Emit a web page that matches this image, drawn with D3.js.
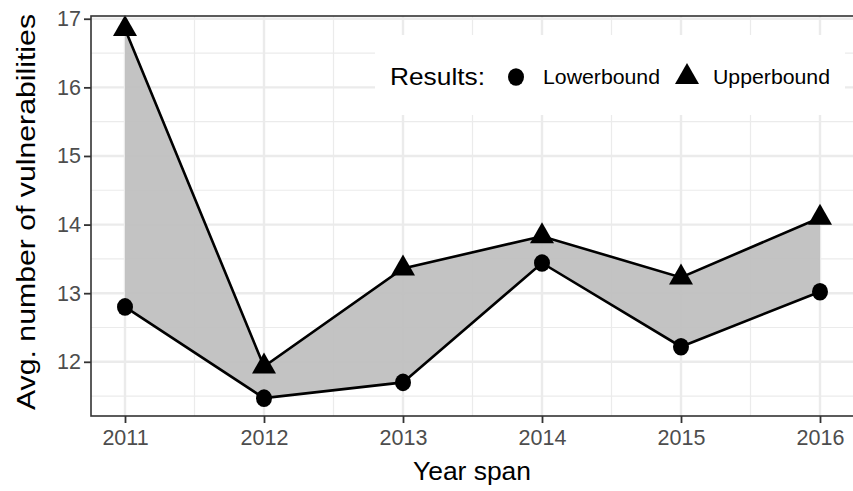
<!DOCTYPE html>
<html>
<head>
<meta charset="utf-8">
<script src="https://cdn.jsdelivr.net/npm/d3@7"></script>
<style>
  body { margin: 0; background: #fff; }
  svg { display: block; font-family: "Liberation Sans", Arial, sans-serif; }
</style>
</head>
<body>
<div id="chart"></div>
<script>
// data
const years = [2011, 2012, 2013, 2014, 2015, 2016];
const lowerbound = [12.8, 11.47, 11.7, 13.44, 12.22, 13.02];
const upperbound = [16.85, 11.93, 13.36, 13.83, 13.23, 14.1];
const yTicks = [12, 13, 14, 15, 16, 17];
const yMinor = [11.5, 12.5, 13.5, 14.5, 15.5, 16.5];
const xMinor = [2011.5, 2012.5, 2013.5, 2014.5, 2015.5];

const W = 853, H = 491;
const panel = {left: 91, top: 16, right: 862, bottom: 416};

const svg = d3.select("#chart").append("svg")
    .attr("width", W).attr("height", H);

const x = d3.scaleLinear().domain([2011, 2016]).range([125, 820]);
const y = d3.scaleLinear().domain([11.21, 17.04]).range([panel.bottom, panel.top]);

// grid
const grid = svg.append("g");
grid.selectAll(".ymin").data(yMinor).join("line")
    .attr("x1", panel.left).attr("x2", panel.right)
    .attr("y1", d => y(d)).attr("y2", d => y(d))
    .attr("stroke", "#ebebeb").attr("stroke-width", 1.2);
grid.selectAll(".xmin").data(xMinor).join("line")
    .attr("y1", panel.top).attr("y2", panel.bottom)
    .attr("x1", d => x(d)).attr("x2", d => x(d))
    .attr("stroke", "#ebebeb").attr("stroke-width", 1.2);
grid.selectAll(".ymaj").data(yTicks).join("line")
    .attr("x1", panel.left).attr("x2", panel.right)
    .attr("y1", d => y(d)).attr("y2", d => y(d))
    .attr("stroke", "#ebebeb").attr("stroke-width", 2.4);
grid.selectAll(".xmaj").data(years).join("line")
    .attr("y1", panel.top).attr("y2", panel.bottom)
    .attr("x1", d => x(d)).attr("x2", d => x(d))
    .attr("stroke", "#ebebeb").attr("stroke-width", 2.4);

// ribbon between the bounds
const rows = years.map((yr, i) => ({yr, lo: lowerbound[i], hi: upperbound[i]}));
svg.append("path").datum(rows)
    .attr("d", d3.area().x(d => x(d.yr)).y0(d => y(d.lo)).y1(d => y(d.hi)))
    .attr("fill", "#bebebe").attr("fill-opacity", 0.92);

// legend box (drawn over the grid, under the lines)
const lg = svg.append("g");
lg.append("rect").attr("x", 375).attr("y", 35).attr("width", 470).attr("height", 80)
    .attr("fill", "#fff");

// lines
const line = d3.line().x(d => x(d[0])).y(d => y(d[1]));
svg.append("path").datum(years.map((yr, i) => [yr, lowerbound[i]]))
    .attr("d", line).attr("fill", "none").attr("stroke", "#000").attr("stroke-width", 2.6);
svg.append("path").datum(years.map((yr, i) => [yr, upperbound[i]]))
    .attr("d", line).attr("fill", "none").attr("stroke", "#000").attr("stroke-width", 2.6);

// points
const triH = 21, triW = 24;
const tri = `M0,${-triH * 2 / 3}L${triW / 2},${triH / 3}L${-triW / 2},${triH / 3}Z`;
svg.append("g").selectAll("ellipse").data(years).join("ellipse")
    .attr("cx", d => x(d)).attr("cy", (d, i) => y(lowerbound[i]))
    .attr("rx", 8).attr("ry", 8.8).attr("fill", "#000");
svg.append("g").selectAll("path").data(years).join("path")
    .attr("transform", (d, i) => `translate(${x(d)},${y(upperbound[i])})`)
    .attr("d", tri).attr("fill", "#000");

// panel border (top + left; right falls outside the frame)
svg.append("rect")
    .attr("x", panel.left).attr("y", panel.top)
    .attr("width", panel.right - panel.left).attr("height", panel.bottom - panel.top)
    .attr("fill", "none").attr("stroke", "#333").attr("stroke-width", 1.6);

// axes
const xAxis = svg.append("g").attr("transform", `translate(0,${panel.bottom})`)
    .call(d3.axisBottom(x).tickValues(years).tickFormat(d3.format("d")).tickSize(7).tickPadding(7));
const yAxis = svg.append("g").attr("transform", `translate(${panel.left},0)`)
    .call(d3.axisLeft(y).tickValues(yTicks).tickFormat(d3.format("d")).tickSize(7).tickPadding(3));
[xAxis, yAxis].forEach(a => {
  a.select(".domain").remove();
  a.selectAll(".tick line").attr("stroke", "#333").attr("stroke-width", 1.8);
  a.selectAll(".tick text").attr("fill", "#4d4d4d").style("font-size", "21.5px")
      .style("font-family", "'Liberation Sans', Arial, sans-serif");
});

// axis titles
svg.append("text").attr("x", 472).attr("y", 480).attr("text-anchor", "middle")
    .style("font-size", "25px").attr("fill", "#000")
    .attr("textLength", 118).attr("lengthAdjust", "spacingAndGlyphs").text("Year span");
svg.append("text").attr("transform", "translate(35,212) rotate(-90)")
    .attr("text-anchor", "middle").style("font-size", "25.5px").attr("fill", "#000")
    .attr("textLength", 396).attr("lengthAdjust", "spacingAndGlyphs")
    .text("Avg. number of vulnerabilities");

// legend content
lg.append("text").attr("x", 390).attr("y", 85).style("font-size", "24px")
    .attr("textLength", 95).attr("lengthAdjust", "spacingAndGlyphs").text("Results:");
lg.append("ellipse").attr("cx", 516).attr("cy", 77).attr("rx", 8).attr("ry", 8.8).attr("fill", "#000");
lg.append("text").attr("x", 543).attr("y", 84).style("font-size", "20px")
    .attr("textLength", 117).attr("lengthAdjust", "spacingAndGlyphs").text("Lowerbound");
lg.append("path").attr("transform", "translate(687,77)").attr("d", tri).attr("fill", "#000");
lg.append("text").attr("x", 713).attr("y", 84).style("font-size", "20px")
    .attr("textLength", 117).attr("lengthAdjust", "spacingAndGlyphs").text("Upperbound");
</script>
</body>
</html>
